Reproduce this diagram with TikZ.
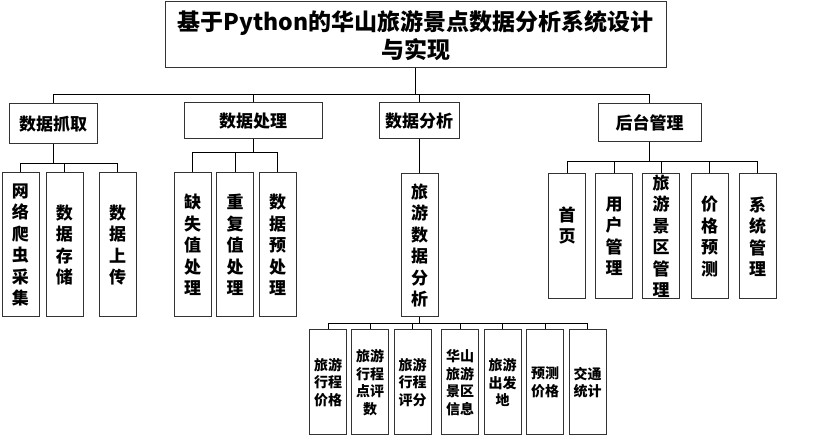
\documentclass[tikz,border=0pt]{standalone}
\usepackage{fontspec}
\setmainfont{Noto Sans CJK SC}
\begin{document}
\begin{tikzpicture}[x=1pt,y=-1pt,
  box/.style={draw=black!80, line width=1pt, inner sep=0pt, align=center},
  ttl/.style={box, minimum width=501pt, minimum height=66pt, font=\fontsize{23}{28}\selectfont\bfseries},
  lone/.style={box, font=\fontsize{17}{21}\selectfont\bfseries},
  vbox/.style={box, minimum width=37pt, font=\fontsize{17}{21.5}\selectfont\bfseries},
  sbox/.style={box, minimum width=37pt, minimum height=105pt, font=\fontsize{14}{17.5}\selectfont\bfseries},
  conn/.style={draw=black, line width=0.9pt}]
\useasboundingbox (0,0) rectangle (831,438);
% title
\node[ttl] (T) at (415.5,35) {\raisebox{-3.5pt}[\height][\depth]{\begin{tabular}{@{}c@{}}基于Python的华山旅游景点数据分析系统设计\\与实现\end{tabular}}};
% level 1
\node[lone, minimum width=88pt, minimum height=40pt] (A) at (53.25,124) {数据抓取};
\node[lone, minimum width=138pt, minimum height=36pt] (B) at (253,121) {数据处理};
\node[lone, minimum width=80pt, minimum height=36pt] (C) at (419,121) {数据分析};
\node[lone, minimum width=103pt, minimum height=38pt] (D) at (649.5,123) {后台管理};
% level 2
\node[vbox, minimum height=144pt] (A1) at (20.5,245) {网\\络\\爬\\虫\\采\\集};
\node[vbox, minimum height=144pt] (A2) at (64.5,245) {数\\据\\存\\储};
\node[vbox, minimum height=144pt] (A3) at (117.5,245) {数\\据\\上\\传};
\node[vbox, minimum height=144pt] (B1) at (192.5,245) {缺\\失\\值\\处\\理};
\node[vbox, minimum height=144pt] (B2) at (235,245) {重\\复\\值\\处\\理};
\node[vbox, minimum height=144pt] (B3) at (277.5,245) {数\\据\\预\\处\\理};
\node[vbox, minimum height=143pt] (C1) at (419.5,245.5) {旅\\游\\数\\据\\分\\析};
\node[vbox, minimum height=125pt] (D1) at (567,236.5) {\raisebox{9pt}[\height][\depth]{\begin{tabular}{@{}c@{}}首\\页\end{tabular}}};
\node[vbox, minimum height=125pt] (D2) at (614,236.5) {用\\户\\管\\理};
\node[vbox, minimum height=125pt] (D3) at (661,236.5) {旅\\游\\景\\区\\管\\理};
\node[vbox, minimum height=125pt] (D4) at (709.5,236.5) {价\\格\\预\\测};
\node[vbox, minimum height=125pt] (D5) at (757.5,236.5) {系\\统\\管\\理};
% level 3
\node[sbox] (E1) at (328,382.5) {旅游\\行程\\价格};
\node[sbox] (E2) at (370,382.5) {旅游\\行程\\点评\\数};
\node[sbox] (E3) at (412.5,382.5) {旅游\\行程\\评分};
\node[sbox] (E4) at (460,382.5) {华山\\旅游\\景区\\信息};
\node[sbox] (E5) at (502.5,382.5) {旅游\\出发\\地};
\node[sbox] (E6) at (545,382.5) {预测\\价格};
\node[sbox] (E7) at (587.5,382.5) {交通\\统计};
% bus coordinates
\coordinate (bT) at (415.5,94);
\coordinate (bA) at (53.25,163);
\coordinate (bB) at (253,152);
\coordinate (bD) at (649.5,161);
\coordinate (bC) at (419.5,323);
% connectors
\foreach \c in {A,B,C,D} \draw[conn] (T.south) -- (bT) -| (\c.north);
\foreach \c in {A1,A2,A3} \draw[conn] (A.south) -- (bA) -| (\c.north);
\foreach \c in {B1,B2,B3} \draw[conn] (B.south) -- (bB) -| (\c.north);
\draw[conn] (C.south) -- (C.south |- C1.north);
\foreach \c in {D1,D2,D3,D4,D5} \draw[conn] (D.south) -- (bD) -| (\c.north);
\foreach \c in {E1,E2,E3,E4,E5,E6,E7} \draw[conn] (C1.south) -- (bC) -| (\c.north);
\end{tikzpicture}
\end{document}
